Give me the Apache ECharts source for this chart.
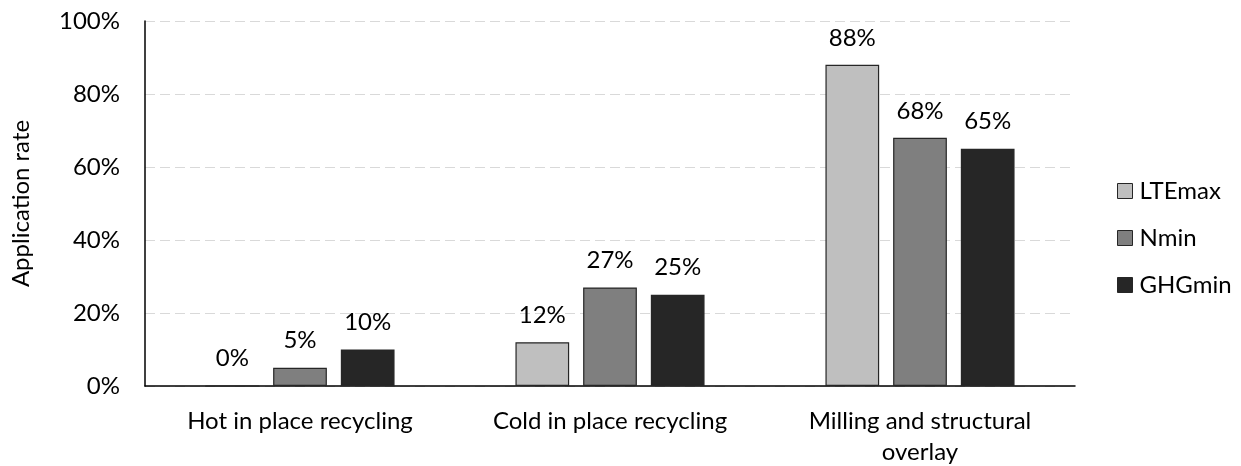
<!DOCTYPE html>
<html>
<head>
<meta charset="utf-8">
<script src="https://cdn.jsdelivr.net/npm/echarts@6/dist/echarts.min.js"></script>
<style>
  html, body { margin: 0; padding: 0; background: #fff; }
  #chart { width: 1241px; height: 466px; }
</style>
</head>
<body>
<div id="chart"></div>
<script>
// Recycling technique categories and application rates (%) per scenario
const categories = ['Hot in place recycling', 'Cold in place recycling', 'Milling and structural\noverlay'];
const lteMax = [0, 12, 88];
const nMin = [5, 27, 68];
const ghgMin = [10, 25, 65];
const yTicks = [0, 20, 40, 60, 80, 100];

const FONT = 'Lato, "Open Sans", sans-serif';
const FS = 24;
const TEXT = '#000';

function barSeries(name, data, color) {
  return {
    name: name,
    type: 'bar',
    data: data,
    barGap: '26%',
    barCategoryGap: '39%',
    itemStyle: { color: color, borderColor: '#262626', borderWidth: 1.2 },
    label: {
      show: true,
      position: 'top',
      distance: 15,
      formatter: p => p.value + '%',
      fontFamily: FONT,
      fontSize: FS,
      color: TEXT
    }
  };
}

const chart = echarts.init(document.getElementById('chart'), null, { renderer: 'canvas' });
chart.setOption({
  animation: false,
  backgroundColor: '#fff',
  grid: { left: 145, right: 166, top: 21, bottom: 80, containLabel: false, outerBoundsMode: 'none' },
  legend: {
    orient: 'vertical',
    left: 1117,
    top: 179,
    padding: 0,
    icon: 'rect',
    itemWidth: 15,
    itemHeight: 15,
    itemGap: 23,
    itemStyle: { borderColor: '#262626', borderWidth: 1 },
    textStyle: { fontFamily: FONT, fontSize: FS, color: TEXT, padding: [0, 0, 0, 2] },
    data: ['LTEmax', 'Nmin', 'GHGmin']
  },
  xAxis: {
    type: 'category',
    data: categories,
    axisLine: { lineStyle: { color: '#000', width: 1.5 } },
    axisTick: { show: false },
    axisLabel: { fontFamily: FONT, fontSize: FS, color: TEXT, margin: 20, lineHeight: 31 }
  },
  yAxis: {
    type: 'value',
    min: yTicks[0],
    max: yTicks[yTicks.length - 1],
    interval: 20,
    name: 'Application rate',
    nameLocation: 'middle',
    nameGap: 112,
    nameRotate: 90,
    nameTextStyle: { fontFamily: FONT, fontSize: FS, color: TEXT },
    axisLine: { show: true, lineStyle: { color: '#000', width: 1.5 } },
    axisTick: { show: false },
    axisLabel: { formatter: '{value}%', fontFamily: FONT, fontSize: FS, color: TEXT, margin: 25 },
    splitLine: { lineStyle: { color: '#d9d9d9', type: [10, 5], width: 1.2 } }
  },
  series: [
    barSeries('LTEmax', lteMax, '#bfbfbf'),
    barSeries('Nmin', nMin, '#7f7f7f'),
    barSeries('GHGmin', ghgMin, '#262626')
  ]
});
</script>
</body>
</html>
